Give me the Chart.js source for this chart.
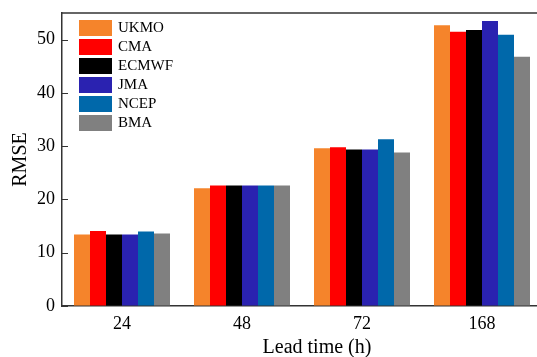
<!DOCTYPE html>
<html>
<head>
<meta charset="utf-8">
<script src="https://cdn.jsdelivr.net/npm/chart.js@4/dist/chart.umd.min.js"></script>
<style>
  html, body { margin: 0; padding: 0; background: #fff; overflow: hidden; width: 537px; height: 357px; }
  #wrap { position: absolute; left: 0; top: 0; width: 542px; height: 357px; }
</style>
</head>
<body>
<div id="wrap"><canvas id="c"></canvas></div>
<script>
const categories = ["24", "48", "72", "168"];
const seriesNames = ["UKMO", "CMA", "ECMWF", "JMA", "NCEP", "BMA"];
const ukmo  = [13.4, 22.1, 29.6, 52.7];
const cma   = [14.1, 22.6, 29.8, 51.5];
const ecmwf = [13.4, 22.6, 29.4, 51.8];
const jma   = [13.4, 22.6, 29.4, 53.5];
const ncep  = [14.0, 22.6, 31.3, 50.9];
const bma   = [13.6, 22.6, 28.8, 46.8];
const yTicks = [0, 10, 20, 30, 40, 50];
const colors = ["#F5842B", "#FF0000", "#000000", "#2A22B0", "#0068AA", "#808080"];
const seriesValues = [ukmo, cma, ecmwf, jma, ncep, bma];

const serif = "'Liberation Serif', 'Times New Roman', serif";

const frame = {
  id: 'frame',
  afterDraw(chart) {
    const ctx = chart.ctx, a = chart.chartArea;
    const ys = chart.scales.y;
    ctx.save();
    ctx.strokeStyle = '#333';
    ctx.lineWidth = 1.5;
    ctx.beginPath();
    ctx.moveTo(a.left, a.top);
    ctx.lineTo(a.right + 10, a.top);
    ctx.stroke();
    // inward y ticks
    ctx.lineWidth = 1.2;
    ctx.beginPath();
    ys.ticks.forEach(t => {
      const py = Math.round(ys.getPixelForValue(t.value)) + 0.5;
      ctx.moveTo(a.left, py);
      ctx.lineTo(a.left + 6, py);
    });
    ctx.stroke();
    // legend
    const ds = chart.data.datasets;
    ctx.font = "15px " + serif;
    ctx.textBaseline = 'middle';
    ctx.textAlign = 'left';
    ds.forEach((d, i) => {
      const y = 20 + i * 19;
      ctx.fillStyle = d.backgroundColor;
      ctx.fillRect(79, y, 33, 16);
      ctx.fillStyle = '#000';
      ctx.fillText(d.label, 118, y + 8.5);
    });
    // x axis title
    ctx.font = "20px " + serif;
    ctx.textAlign = 'center';
    ctx.fillText("Lead time (h)", 317, 348);
    ctx.restore();
  }
};

new Chart(document.getElementById('c'), {
  type: 'bar',
  data: {
    labels: categories,
    datasets: seriesNames.map((n, i) => ({
      label: n,
      data: seriesValues[i],
      backgroundColor: colors[i],
      borderWidth: 0,
      categoryPercentage: 0.8,
      barPercentage: 1.0
    }))
  },
  options: {
    responsive: true,
    maintainAspectRatio: false,
    animation: false,
    layout: { padding: { top: 13, right: 0, left: 0, bottom: 0 } },
    plugins: { legend: { display: false }, tooltip: { enabled: false } },
    scales: {
      x: {
        grid: { drawOnChartArea: false, drawTicks: false },
        border: { display: true, color: '#333', width: 1.5 },
        ticks: { color: '#000', font: { family: serif, size: 18 }, padding: 7, maxRotation: 0 },
        afterFit(s) { s.height = 51; s.paddingLeft = 0; s.paddingRight = 0; }
      },
      y: {
        min: 0, max: 55,
        afterBuildTicks(s) { s.ticks = yTicks.map(v => ({ value: v })); },
        grid: { drawOnChartArea: false, drawTicks: false },
        border: { display: true, color: '#333', width: 1.5 },
        ticks: { color: '#000', font: { family: serif, size: 18 }, padding: 7 },
        title: { display: true, text: 'RMSE', color: '#000', font: { family: serif, size: 20 }, padding: { top: 9, bottom: 0 } },
        afterFit(s) { s.width = 62; s.paddingTop = 0; s.paddingBottom = 0; }
      }
    }
  },
  plugins: [frame]
});
</script>
</body>
</html>
